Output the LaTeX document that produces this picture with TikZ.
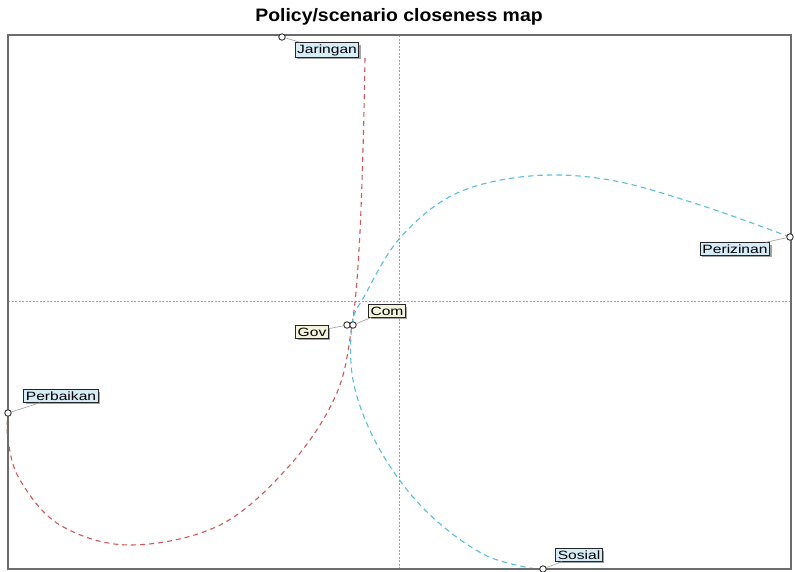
\documentclass[tikz,border=0pt]{standalone}
\usepackage{fontspec}
\setmainfont{Liberation Sans}
\newfontfamily\lblfont[FakeStretch=1.3]{Liberation Sans}
\newfontfamily\ttlfont[FakeStretch=1.08]{Liberation Sans}
\usetikzlibrary{shadows}
\definecolor{redc}{HTML}{CC5858}
\definecolor{bluec}{HTML}{58BCDA}
\definecolor{lblblue}{HTML}{D6ECF6}
\definecolor{lblyel}{HTML}{F4F4DC}
\tikzset{
  frame/.style={draw=gray!85!black, line width=2.2pt},
  axis/.style={draw=gray!75, dash pattern=on 2pt off 1.5pt, line width=0.8pt},
  pt/.style={circle, draw=gray!40!black, fill=white, inner sep=0pt, minimum size=6.5pt, line width=0.9pt},
  lbl/.style={draw=black!85, fill=lblblue, line width=1pt, font=\lblfont\fontsize{12}{13}\selectfont, inner xsep=2pt, inner ysep=1.8pt,
    drop shadow={shadow xshift=2pt, shadow yshift=-2pt, fill=gray!80, opacity=0.9}},
  lbly/.style={lbl, fill=lblyel},
  leader/.style={draw=gray!70, line width=0.7pt},
  redcurve/.style={draw=redc, dash pattern=on 5pt off 4pt, line width=1.1pt},
  bluecurve/.style={draw=bluec, dash pattern=on 5.5pt off 4pt, line width=1.1pt}
}
\begin{document}
\begin{tikzpicture}[x=1pt,y=-1pt]
\useasboundingbox (0,0) rectangle (795,571);
\node[font=\ttlfont\bfseries\fontsize{18}{20}\selectfont] (title) at (399,17) {Policy/scenario closeness map};
% axes
\coordinate (axt) at (399,35);
\coordinate (axb) at (399,569);
\coordinate (axl) at (8,301);
\coordinate (axr) at (791,301);
\draw[axis] (axt) -- (axb);
\draw[axis] (axl) -- (axr);
% curves
\draw[redcurve] plot[smooth, tension=0.6] coordinates {(365,58) (363,150) (359,250) (352,325) (336,395) (290,465) (220,525) (130,545) (60,525) (20,480) (8,440) (8,413)};
\draw[bluecurve] plot[smooth, tension=0.6] coordinates {(790,237) (700,205) (610,180) (530,176) (455,194) (400,238) (365,295) (352,325) (354,385) (380,450) (425,510) (485,555) (543,570)};
% frame
\draw[frame] (8,35) rectangle (791,569);
% points and labels
\node[pt] (pJ) at (282,37) {};
\node[lbl] (lJ) at (327,50) {Jaringan};
\draw[leader] (pJ) -- (lJ);
\node[pt] (pPz) at (790,237) {};
\node[lbl] (lPz) at (735,249) {Perizinan};
\draw[leader] (pPz) -- (lPz);
\node[pt] (pPb) at (8,413) {};
\node[lbl] (lPb) at (61,396) {Perbaikan};
\draw[leader] (pPb) -- (lPb);
\node[pt] (pS) at (543,569) {};
\node[lbl] (lS) at (579,555) {Sosial};
\draw[leader] (pS) -- (lS);
\node[pt] (pG) at (347,325) {};
\node[lbly] (lG) at (312,332) {Gov};
\draw[leader] (pG) -- (lG);
\node[pt] (pC) at (353,325) {};
\node[lbly] (lC) at (387,311) {Com};
\draw[leader] (pC) -- (lC);
\end{tikzpicture}
\end{document}
